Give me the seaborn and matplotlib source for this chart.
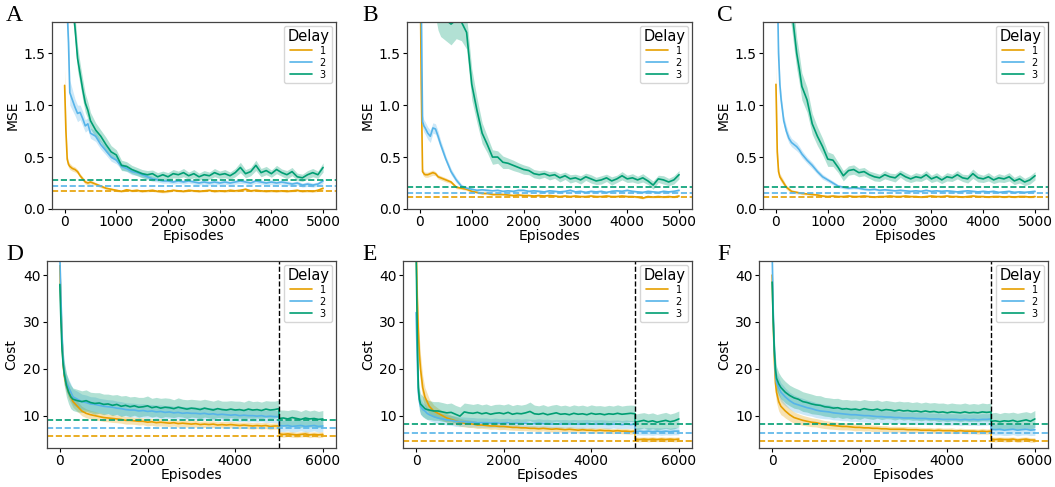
import numpy as np
import pandas as pd
import matplotlib
matplotlib.use("Agg")
import matplotlib.pyplot as plt
import seaborn as sns

# ---------------- data ----------------
TOP_X = [0, 25, 50, 75, 100, 150, 200, 250, 300, 350, 400, 450, 500] + list(range(600, 5001, 100))
BOT_X = [0, 25, 50, 75, 100, 150, 200, 250, 300, 400, 500] + list(range(600, 5001, 100)) + [5001] + list(range(5100, 6001, 100))
DELAYS = ["1", "2", "3"]
COLORS = ["#E69F00", "#56B4E9", "#009E73"]
PANEL_LABELS = ["A", "B", "C", "D", "E", "F"]

# ---- Panel A (MSE) ----
A_1 = [1.19, 0.75, 0.48, 0.43, 0.41, 0.39, 0.38, 0.36, 0.32, 0.29, 0.26, 0.25, 0.26,
       0.24, 0.22, 0.20, 0.19, 0.18, 0.17, 0.185, 0.175, 0.18, 0.17,
       0.175, 0.18, 0.17, 0.165, 0.17, 0.18, 0.175, 0.17, 0.18, 0.175,
       0.17, 0.175, 0.18, 0.17, 0.175, 0.17, 0.18, 0.175, 0.18, 0.19,
       0.175, 0.18, 0.175, 0.17, 0.175, 0.17, 0.175, 0.17, 0.175, 0.18,
       0.17, 0.175, 0.17, 0.18, 0.20]
A_1_SD = [0.16, 0.08, 0.04, 0.03, 0.03, 0.025, 0.025, 0.02, 0.02, 0.02, 0.02, 0.018, 0.018,
          0.015, 0.015, 0.012, 0.012, 0.012, 0.01, 0.012, 0.01, 0.012, 0.01,
          0.01, 0.012, 0.01, 0.01, 0.012, 0.01, 0.01, 0.012, 0.01, 0.01,
          0.012, 0.01, 0.01, 0.012, 0.01, 0.01, 0.012, 0.01, 0.012, 0.014,
          0.01, 0.012, 0.01, 0.01, 0.012, 0.01, 0.01, 0.012, 0.01, 0.012,
          0.01, 0.012, 0.01, 0.012, 0.015]
A_2 = [2.6, 2.2, 1.9, 1.6, 1.12, 1.05, 0.98, 0.92, 0.93, 0.87, 0.80, 0.82, 0.73,
       0.70, 0.62, 0.56, 0.50, 0.47, 0.41, 0.39, 0.36, 0.35, 0.33,
       0.31, 0.29, 0.28, 0.27, 0.27, 0.26, 0.27, 0.26, 0.27, 0.26,
       0.25, 0.26, 0.25, 0.26, 0.25, 0.26, 0.25, 0.26, 0.27, 0.26,
       0.25, 0.27, 0.26, 0.25, 0.26, 0.25, 0.26, 0.25, 0.24, 0.25,
       0.23, 0.24, 0.23, 0.24, 0.27]
A_2_SD = [0.2, 0.2, 0.2, 0.15, 0.12, 0.1, 0.08, 0.08, 0.07, 0.07, 0.06, 0.06, 0.05,
          0.05, 0.045, 0.04, 0.04, 0.035, 0.03, 0.03, 0.03, 0.025, 0.025,
          0.025, 0.025, 0.02, 0.022, 0.02, 0.02, 0.022, 0.02, 0.02, 0.022,
          0.02, 0.02, 0.022, 0.02, 0.02, 0.022, 0.02, 0.02, 0.024, 0.02,
          0.02, 0.022, 0.02, 0.02, 0.022, 0.02, 0.02, 0.022, 0.02, 0.02,
          0.02, 0.022, 0.02, 0.02, 0.025]
A_3 = [3.2, 3.0, 2.8, 2.5, 2.3, 2.0, 1.75, 1.45, 1.30, 1.15, 1.02, 0.95, 0.85,
       0.76, 0.70, 0.62, 0.55, 0.52, 0.42, 0.41, 0.38, 0.36, 0.34,
       0.33, 0.34, 0.31, 0.33, 0.31, 0.34, 0.33, 0.35, 0.32, 0.34,
       0.31, 0.33, 0.32, 0.35, 0.33, 0.34, 0.32, 0.35, 0.40, 0.34,
       0.36, 0.42, 0.35, 0.37, 0.34, 0.38, 0.35, 0.33, 0.36, 0.31,
       0.30, 0.33, 0.35, 0.33, 0.40]
A_3_SD = [0.2, 0.2, 0.2, 0.2, 0.2, 0.15, 0.12, 0.12, 0.1, 0.1, 0.09, 0.08, 0.08,
          0.07, 0.06, 0.07, 0.06, 0.05, 0.05, 0.045, 0.04, 0.04, 0.04,
          0.04, 0.035, 0.04, 0.035, 0.04, 0.04, 0.035, 0.04, 0.035, 0.04,
          0.035, 0.04, 0.035, 0.04, 0.035, 0.04, 0.035, 0.04, 0.05, 0.04,
          0.04, 0.05, 0.04, 0.04, 0.035, 0.04, 0.035, 0.04, 0.04, 0.035,
          0.035, 0.04, 0.04, 0.035, 0.045]
A_REF = [0.17, 0.22, 0.28]

# ---- Panel B (MSE) ----
B_1 = [2.5, 1.2, 0.36, 0.34, 0.33, 0.33, 0.34, 0.35, 0.34, 0.31, 0.30, 0.29, 0.28,
       0.26, 0.21, 0.20, 0.19, 0.17, 0.16, 0.15, 0.15, 0.14, 0.14,
       0.14, 0.135, 0.13, 0.135, 0.13, 0.13, 0.125, 0.13, 0.125, 0.13,
       0.125, 0.12, 0.125, 0.12, 0.125, 0.12, 0.12, 0.125, 0.12, 0.12,
       0.125, 0.12, 0.12, 0.125, 0.12, 0.12, 0.115, 0.105, 0.12, 0.115,
       0.12, 0.115, 0.12, 0.115, 0.125]
B_1_SD = [0.1, 0.1, 0.03, 0.025, 0.025, 0.025, 0.025, 0.025, 0.02, 0.02, 0.02, 0.02, 0.02,
          0.015, 0.015, 0.012, 0.012, 0.01, 0.01, 0.01, 0.01, 0.01, 0.01,
          0.01, 0.008, 0.01, 0.008, 0.01, 0.008, 0.01, 0.008, 0.01, 0.008,
          0.01, 0.008, 0.01, 0.008, 0.01, 0.008, 0.01, 0.008, 0.01, 0.008,
          0.01, 0.008, 0.01, 0.008, 0.01, 0.008, 0.01, 0.008, 0.01, 0.008,
          0.01, 0.008, 0.01, 0.008, 0.01]
B_2 = [3.0, 2.0, 0.84, 0.80, 0.78, 0.73, 0.70, 0.78, 0.77, 0.70, 0.62, 0.55, 0.48,
       0.36, 0.28, 0.22, 0.20, 0.19, 0.18, 0.185, 0.18, 0.175, 0.18,
       0.17, 0.175, 0.17, 0.18, 0.18, 0.17, 0.175, 0.17, 0.165, 0.175,
       0.17, 0.165, 0.17, 0.18, 0.165, 0.17, 0.16, 0.17, 0.165, 0.17,
       0.16, 0.17, 0.175, 0.17, 0.18, 0.17, 0.165, 0.16, 0.17, 0.165,
       0.16, 0.17, 0.165, 0.17, 0.18]
B_2_SD = [0.1, 0.1, 0.06, 0.06, 0.06, 0.06, 0.06, 0.05, 0.05, 0.05, 0.04, 0.04, 0.03,
          0.03, 0.025, 0.02, 0.015, 0.015, 0.012, 0.012, 0.012, 0.01, 0.012,
          0.01, 0.012, 0.01, 0.012, 0.01, 0.012, 0.01, 0.012, 0.01, 0.012,
          0.01, 0.012, 0.01, 0.012, 0.01, 0.012, 0.01, 0.012, 0.01, 0.012,
          0.01, 0.012, 0.01, 0.012, 0.01, 0.012, 0.01, 0.012, 0.01, 0.012,
          0.01, 0.012, 0.01, 0.012, 0.012]
B_3 = [3.5, 3.3, 3.0, 2.8, 2.6, 2.5, 2.35, 2.2, 2.05, 1.92, 1.86, 1.84, 1.82,
       1.78, 1.82, 1.80, 1.70, 1.20, 0.95, 0.73, 0.62, 0.50, 0.50,
       0.45, 0.44, 0.42, 0.40, 0.38, 0.37, 0.34, 0.33, 0.34, 0.32,
       0.33, 0.30, 0.32, 0.29, 0.30, 0.28, 0.31, 0.29, 0.27, 0.28,
       0.30, 0.27, 0.29, 0.32, 0.29, 0.30, 0.28, 0.30, 0.27, 0.23,
       0.29, 0.28, 0.26, 0.28, 0.33]
B_3_SD = [0.2, 0.2, 0.2, 0.2, 0.2, 0.2, 0.2, 0.2, 0.2, 0.2, 0.2, 0.2, 0.2,
          0.2, 0.18, 0.18, 0.16, 0.15, 0.12, 0.1, 0.08, 0.07, 0.06,
          0.06, 0.05, 0.05, 0.045, 0.045, 0.04, 0.04, 0.04, 0.035, 0.04,
          0.035, 0.04, 0.035, 0.04, 0.035, 0.04, 0.035, 0.04, 0.035, 0.04,
          0.035, 0.04, 0.035, 0.04, 0.035, 0.04, 0.035, 0.04, 0.035, 0.04,
          0.035, 0.04, 0.035, 0.04, 0.04]
B_REF = [0.12, 0.155, 0.21]

# ---- Panel C (MSE) ----
C_1 = [1.20, 0.55, 0.36, 0.31, 0.29, 0.25, 0.21, 0.19, 0.17, 0.165, 0.16, 0.155, 0.15,
       0.145, 0.14, 0.135, 0.125, 0.12, 0.125, 0.12, 0.12, 0.125, 0.12,
       0.12, 0.125, 0.12, 0.115, 0.12, 0.12, 0.125, 0.12, 0.12, 0.125,
       0.12, 0.12, 0.115, 0.12, 0.125, 0.12, 0.12, 0.125, 0.12, 0.12,
       0.115, 0.12, 0.125, 0.12, 0.12, 0.115, 0.12, 0.12, 0.115, 0.12,
       0.115, 0.12, 0.12, 0.115, 0.12]
C_1_SD = [0.2, 0.08, 0.04, 0.03, 0.03, 0.025, 0.02, 0.02, 0.015, 0.015, 0.015, 0.012, 0.012,
          0.01, 0.01, 0.01, 0.008, 0.008, 0.008, 0.008, 0.008, 0.008, 0.008,
          0.008, 0.008, 0.008, 0.008, 0.008, 0.008, 0.008, 0.008, 0.008, 0.008,
          0.008, 0.008, 0.008, 0.008, 0.008, 0.008, 0.008, 0.008, 0.008, 0.008,
          0.008, 0.008, 0.008, 0.008, 0.008, 0.008, 0.008, 0.008, 0.008, 0.008,
          0.008, 0.008, 0.008, 0.008, 0.01]
C_2 = [3.0, 2.2, 1.5, 1.2, 1.05, 0.85, 0.75, 0.68, 0.64, 0.62, 0.60, 0.57, 0.53,
       0.47, 0.42, 0.36, 0.31, 0.28, 0.25, 0.22, 0.21, 0.20, 0.205,
       0.20, 0.19, 0.185, 0.19, 0.18, 0.185, 0.18, 0.175, 0.18, 0.175,
       0.17, 0.175, 0.17, 0.18, 0.17, 0.175, 0.17, 0.175, 0.17, 0.165,
       0.17, 0.175, 0.17, 0.165, 0.17, 0.165, 0.17, 0.16, 0.165, 0.17,
       0.16, 0.165, 0.16, 0.165, 0.17]
C_2_SD = [0.15, 0.1, 0.08, 0.06, 0.06, 0.05, 0.05, 0.045, 0.04, 0.04, 0.04, 0.035, 0.035,
          0.03, 0.03, 0.025, 0.025, 0.02, 0.02, 0.015, 0.015, 0.012, 0.012,
          0.012, 0.01, 0.012, 0.01, 0.012, 0.01, 0.012, 0.01, 0.012, 0.01,
          0.012, 0.01, 0.012, 0.01, 0.012, 0.01, 0.012, 0.01, 0.012, 0.01,
          0.012, 0.01, 0.012, 0.01, 0.012, 0.01, 0.012, 0.01, 0.012, 0.01,
          0.012, 0.01, 0.012, 0.01, 0.012]
C_3 = [3.5, 3.3, 3.1, 2.9, 2.7, 2.5, 2.3, 2.1, 1.95, 1.72, 1.50, 1.35, 1.18,
       1.05, 0.82, 0.70, 0.60, 0.48, 0.47, 0.40, 0.32, 0.37, 0.38,
       0.35, 0.36, 0.33, 0.31, 0.30, 0.33, 0.31, 0.30, 0.34, 0.31,
       0.29, 0.31, 0.30, 0.33, 0.29, 0.31, 0.28, 0.31, 0.30, 0.33,
       0.30, 0.29, 0.34, 0.30, 0.29, 0.31, 0.28, 0.30, 0.29, 0.31,
       0.27, 0.29, 0.26, 0.28, 0.32]
C_3_SD = [0.2, 0.2, 0.2, 0.2, 0.2, 0.2, 0.2, 0.2, 0.2, 0.18, 0.15, 0.14, 0.13,
          0.12, 0.1, 0.09, 0.08, 0.07, 0.06, 0.05, 0.05, 0.045, 0.045,
          0.04, 0.04, 0.035, 0.04, 0.035, 0.04, 0.035, 0.04, 0.035, 0.04,
          0.035, 0.04, 0.035, 0.04, 0.035, 0.04, 0.035, 0.04, 0.035, 0.04,
          0.035, 0.04, 0.045, 0.04, 0.035, 0.04, 0.035, 0.04, 0.035, 0.04,
          0.035, 0.04, 0.035, 0.04, 0.04]
C_REF = [0.12, 0.155, 0.21]

# ---- Panel D (Cost) ----
D_1 = [42, 33, 26, 21, 18.5, 16.5, 15, 14, 13, 12, 11,
       10.5, 10.2, 10.0, 9.8, 9.6, 9.5, 9.4, 9.3, 9.2, 9.0,
       9.0, 8.9, 8.8, 8.8, 8.6, 8.7, 8.5, 8.6, 8.5, 8.4,
       8.5, 8.3, 8.4, 8.3, 8.2, 8.3, 8.1, 8.2, 8.1, 8.2,
       8.0, 8.1, 8.0, 8.1, 8.0, 7.9, 8.0, 7.9, 7.8, 7.9,
       7.8, 7.9, 7.7, 7.8, 7.8,
       6.1, 6.0, 6.1, 6.0, 5.9, 6.0, 6.1, 5.9, 6.0, 5.9, 6.0]
D_1_SD = [3.0, 3.0, 2.5, 2.0, 1.8, 1.5, 1.4, 1.3, 1.2, 1.1, 1.0,
          0.95, 0.9, 0.9, 0.85, 0.85, 0.8, 0.85, 0.8, 0.8, 0.8,
          0.8, 0.75, 0.8, 0.75, 0.8, 0.75, 0.75, 0.8, 0.75, 0.75,
          0.7, 0.75, 0.7, 0.75, 0.7, 0.75, 0.7, 0.7, 0.75, 0.7,
          0.7, 0.7, 0.75, 0.7, 0.7, 0.7, 0.65, 0.7, 0.7, 0.65,
          0.7, 0.65, 0.7, 0.65, 0.7,
          0.6, 0.6, 0.55, 0.6, 0.6, 0.55, 0.6, 0.6, 0.55, 0.6, 0.6]
D_2 = [44, 35, 27, 22, 19, 17, 16, 15, 14, 13.5, 13,
       12.8, 12.5, 12.4, 12.2, 12.0, 11.9, 11.8, 11.6, 11.5, 11.3,
       11.2, 11.2, 11.0, 11.1, 10.9, 11.0, 10.8, 10.9, 10.7, 10.8,
       10.6, 10.7, 10.5, 10.6, 10.5, 10.5, 10.4, 10.5, 10.3, 10.4,
       10.2, 10.3, 10.2, 10.1, 10.2, 10.0, 10.1, 10.0, 10.0, 9.9,
       10.0, 9.8, 9.9, 9.8, 9.8,
       7.9, 7.8, 7.9, 7.7, 7.8, 7.9, 7.7, 7.8, 7.9, 7.7, 7.8]
D_2_SD = [3.0, 3.0, 2.5, 2.2, 2.0, 1.9, 1.8, 1.8, 1.7, 1.7, 1.6,
          1.6, 1.55, 1.6, 1.5, 1.55, 1.5, 1.55, 1.5, 1.5, 1.45,
          1.5, 1.45, 1.5, 1.45, 1.5, 1.4, 1.45, 1.4, 1.45, 1.4,
          1.4, 1.45, 1.4, 1.35, 1.4, 1.35, 1.4, 1.35, 1.4, 1.35,
          1.35, 1.3, 1.35, 1.3, 1.35, 1.3, 1.3, 1.35, 1.3, 1.3,
          1.3, 1.3, 1.35, 1.3, 1.3,
          1.2, 1.2, 1.15, 1.2, 1.2, 1.15, 1.2, 1.2, 1.15, 1.2, 1.2]
D_3 = [38, 30, 24, 21, 19, 16.5, 15, 14, 13.5, 13.2, 13,
       13.2, 12.8, 12.6, 12.7, 12.4, 12.5, 12.2, 12.4, 12.0, 12.2,
       11.9, 12.1, 11.8, 11.9, 12.1, 11.7, 11.9, 11.6, 11.8, 11.7,
       11.5, 11.8, 11.6, 11.4, 11.6, 11.5, 11.3, 11.6, 11.4, 11.2,
       11.5, 11.3, 11.2, 11.4, 11.2, 11.3, 11.1, 11.4, 11.2, 11.3,
       11.1, 11.4, 11.2, 11.3, 11.5,
       9.4, 9.5, 9.3, 9.6, 9.4, 9.2, 9.5, 9.3, 9.4, 9.2, 9.3]
D_3_SD = [3.0, 3.0, 3.0, 2.8, 2.6, 2.5, 2.5, 2.5, 2.4, 2.4, 2.3,
          2.3, 2.2, 2.3, 2.2, 2.2, 2.1, 2.2, 2.1, 2.2, 2.1,
          2.1, 2.0, 2.1, 2.0, 2.1, 2.0, 2.0, 2.1, 2.0, 2.0,
          1.9, 2.0, 1.9, 2.0, 1.9, 1.9, 2.0, 1.9, 1.9, 1.9,
          1.9, 1.8, 1.9, 1.8, 1.9, 1.8, 1.8, 1.9, 1.8, 1.8,
          1.8, 1.8, 1.9, 1.8, 1.8,
          1.8, 1.7, 1.8, 1.7, 1.8, 1.7, 1.8, 1.7, 1.8, 1.7, 1.8]
D_REF = [5.7, 7.4, 9.0]

# ---- Panel E (Cost) ----
E_1 = [46, 35, 28, 23, 20, 16, 14, 13, 12, 11, 10.5,
       10.0, 9.5, 9.2, 8.9, 8.6, 8.4, 8.3, 8.2, 8.0, 8.0,
       7.9, 7.8, 7.8, 7.7, 7.7, 7.6, 7.5, 7.5, 7.4, 7.4,
       7.3, 7.3, 7.2, 7.3, 7.2, 7.1, 7.2, 7.1, 7.0, 7.1,
       7.0, 6.9, 7.0, 6.9, 6.9, 6.8, 6.9, 6.8, 6.8, 6.7,
       6.8, 6.7, 6.7, 6.6, 6.7,
       5.0, 4.9, 5.0, 4.9, 5.0, 4.9, 5.0, 4.9, 5.0, 4.9, 5.0]
E_1_SD = [4.0, 4.0, 4.0, 3.5, 3.0, 2.5, 2.0, 1.8, 1.6, 1.3, 1.1,
          1.0, 0.95, 0.9, 0.9, 0.85, 0.8, 0.8, 0.75, 0.75, 0.7,
          0.7, 0.7, 0.65, 0.7, 0.65, 0.65, 0.6, 0.65, 0.6, 0.6,
          0.6, 0.6, 0.6, 0.55, 0.6, 0.6, 0.55, 0.6, 0.55, 0.6,
          0.55, 0.6, 0.55, 0.55, 0.6, 0.55, 0.55, 0.6, 0.55, 0.55,
          0.55, 0.55, 0.6, 0.55, 0.55,
          0.5, 0.5, 0.45, 0.5, 0.5, 0.45, 0.5, 0.5, 0.45, 0.5, 0.5]
E_2 = [32, 22, 15, 13, 12, 11.3, 11, 10.5, 10.2, 9.8, 9.5,
       9.3, 9.1, 9.0, 8.8, 8.7, 8.7, 8.6, 8.6, 8.5, 8.5,
       8.5, 8.4, 8.5, 8.4, 8.4, 8.5, 8.3, 8.4, 8.3, 8.4,
       8.3, 8.3, 8.4, 8.3, 8.3, 8.2, 8.3, 8.2, 8.3, 8.2,
       8.3, 8.2, 8.2, 8.3, 8.2, 8.2, 8.3, 8.2, 8.1, 8.2,
       8.2, 8.1, 8.2, 8.1, 8.2,
       6.6, 6.7, 6.6, 6.7, 6.6, 6.7, 6.6, 6.7, 6.6, 6.7, 6.7]
E_2_SD = [2.0, 2.0, 2.0, 1.8, 1.6, 1.5, 1.4, 1.3, 1.3, 1.2, 1.2,
          1.1, 1.1, 1.05, 1.1, 1.05, 1.0, 1.05, 1.0, 1.0, 1.0,
          1.0, 0.95, 1.0, 0.95, 1.0, 0.95, 0.95, 1.0, 0.95, 0.95,
          0.95, 0.9, 0.95, 0.9, 0.95, 0.9, 0.9, 0.95, 0.9, 0.9,
          0.9, 0.9, 0.95, 0.9, 0.9, 0.9, 0.85, 0.9, 0.9, 0.85,
          0.9, 0.85, 0.9, 0.85, 0.9,
          0.8, 0.8, 0.75, 0.8, 0.8, 0.75, 0.8, 0.8, 0.75, 0.8, 0.8]
E_3 = [45, 28, 16, 13.5, 12.5, 12, 11.5, 11.3, 11.2, 11.0, 11.0,
       10.8, 10.6, 10.7, 10.3, 9.9, 10.8, 10.6, 10.5, 10.7, 10.4,
       10.6, 10.3, 10.5, 10.6, 10.4, 10.7, 10.3, 10.5, 10.4, 10.6,
       10.9, 10.4, 10.3, 10.5, 10.2, 10.4, 10.6, 10.3, 10.4, 10.2,
       10.5, 10.3, 10.4, 10.2, 10.5, 10.3, 10.4, 10.2, 10.4, 10.3,
       10.5, 10.3, 10.4, 10.5, 10.4,
       8.6, 8.8, 9.0, 8.7, 8.9, 8.6, 8.8, 9.0, 8.7, 8.9, 9.3]
E_3_SD = [3.0, 3.0, 2.5, 2.3, 2.2, 2.2, 2.1, 2.1, 2.0, 2.0, 2.0,
          2.0, 1.95, 2.0, 1.9, 1.95, 1.9, 1.95, 1.9, 1.9, 1.9,
          1.9, 1.85, 1.9, 1.85, 1.9, 1.85, 1.85, 1.9, 1.85, 1.85,
          2.0, 1.85, 1.8, 1.85, 1.8, 1.85, 1.8, 1.8, 1.85, 1.8,
          1.8, 1.8, 1.85, 1.8, 1.8, 1.8, 1.75, 1.8, 1.8, 1.75,
          1.8, 1.75, 1.8, 1.75, 1.8,
          1.7, 1.7, 1.65, 1.7, 1.7, 1.65, 1.7, 1.7, 1.65, 1.7, 1.7]
E_REF = [4.6, 6.4, 8.3]

# ---- Panel F (Cost) ----
F_1 = [40, 30, 22, 17, 15, 13, 12, 11.5, 11, 10.2, 9.6,
       9.3, 9.0, 8.8, 8.6, 8.5, 8.3, 8.1, 8.0, 7.9, 7.8,
       7.7, 7.7, 7.6, 7.5, 7.5, 7.4, 7.4, 7.3, 7.3, 7.2,
       7.2, 7.1, 7.1, 7.1, 7.1, 7.0, 7.0, 7.0, 6.9, 6.9,
       6.9, 6.8, 6.9, 6.8, 6.8, 6.8, 6.7, 6.8, 6.7, 6.7,
       6.7, 6.6, 6.7, 6.6, 6.7,
       5.0, 4.9, 5.0, 4.9, 4.9, 5.0, 4.8, 4.9, 5.0, 4.8, 4.8]
F_1_SD = [3.0, 3.0, 2.8, 2.5, 2.2, 2.0, 1.8, 1.6, 1.5, 1.3, 1.2,
          1.1, 1.05, 1.0, 0.95, 0.9, 0.9, 0.85, 0.85, 0.8, 0.8,
          0.75, 0.75, 0.7, 0.75, 0.7, 0.7, 0.65, 0.7, 0.65, 0.65,
          0.65, 0.6, 0.65, 0.6, 0.6, 0.65, 0.6, 0.6, 0.6, 0.55,
          0.6, 0.55, 0.6, 0.55, 0.55, 0.6, 0.55, 0.55, 0.55, 0.55,
          0.55, 0.55, 0.6, 0.55, 0.55,
          0.5, 0.5, 0.45, 0.5, 0.5, 0.45, 0.5, 0.5, 0.45, 0.5, 0.5]
F_2 = [45, 32, 24, 19, 17, 16, 15, 14.5, 14, 13.2, 12.6,
       12.3, 12.0, 11.7, 11.5, 11.2, 11.0, 10.9, 10.8, 10.6, 10.5,
       10.4, 10.3, 10.2, 10.2, 10.1, 10.0, 10.0, 9.9, 9.8, 9.8,
       9.7, 9.7, 9.6, 9.6, 9.5, 9.5, 9.5, 9.4, 9.4, 9.4,
       9.3, 9.3, 9.3, 9.2, 9.2, 9.2, 9.2, 9.1, 9.2, 9.1,
       9.2, 9.1, 9.2, 9.2, 9.3,
       7.1, 7.0, 7.1, 6.9, 7.0, 7.1, 6.9, 7.0, 7.1, 6.9, 7.0]
F_2_SD = [3.0, 3.0, 2.6, 2.4, 2.2, 2.1, 2.0, 2.0, 1.9, 1.8, 1.8,
          1.7, 1.7, 1.65, 1.6, 1.6, 1.55, 1.55, 1.5, 1.5, 1.45,
          1.45, 1.4, 1.45, 1.4, 1.4, 1.35, 1.4, 1.35, 1.35, 1.3,
          1.35, 1.3, 1.3, 1.3, 1.25, 1.3, 1.25, 1.3, 1.25, 1.25,
          1.25, 1.2, 1.25, 1.2, 1.25, 1.2, 1.2, 1.25, 1.2, 1.2,
          1.2, 1.2, 1.25, 1.2, 1.2,
          1.2, 1.15, 1.2, 1.15, 1.2, 1.15, 1.2, 1.15, 1.2, 1.15, 1.2]
F_3 = [38.5, 30, 24, 20, 18, 16.8, 16, 15.5, 15, 14.3, 13.8,
       13.5, 13.0, 12.8, 12.5, 12.3, 12.2, 11.9, 11.8, 11.6, 11.7,
       11.4, 11.5, 11.3, 11.4, 11.2, 11.5, 11.3, 11.2, 11.4, 11.1,
       11.3, 11.2, 11.0, 11.2, 11.0, 11.1, 10.9, 11.0, 10.8, 11.0,
       10.8, 10.9, 10.7, 10.8, 10.6, 10.8, 10.7, 10.6, 10.8, 10.6,
       10.7, 10.6, 10.8, 10.7, 10.8,
       8.8, 8.9, 8.7, 8.9, 8.8, 9.0, 8.7, 8.9, 9.1, 8.8, 9.3]
F_3_SD = [3.0, 3.0, 2.8, 2.6, 2.5, 2.4, 2.4, 2.3, 2.3, 2.2, 2.2,
          2.1, 2.1, 2.05, 2.1, 2.0, 2.05, 2.0, 2.0, 2.05, 2.0,
          2.0, 1.95, 2.0, 1.95, 2.0, 1.95, 1.95, 2.0, 1.95, 1.95,
          1.95, 1.9, 1.95, 1.9, 1.95, 1.9, 1.9, 1.95, 1.9, 1.9,
          1.9, 1.9, 1.95, 1.9, 1.9, 1.9, 1.85, 1.9, 1.9, 1.85,
          1.9, 1.85, 1.9, 1.85, 1.9,
          1.8, 1.8, 1.75, 1.8, 1.8, 1.75, 1.8, 1.8, 1.75, 1.8, 1.8]
F_REF = [4.6, 6.4, 8.3]

PANELS = [
    ("A", TOP_X, [A_1, A_2, A_3], [A_1_SD, A_2_SD, A_3_SD], A_REF, "MSE"),
    ("B", TOP_X, [B_1, B_2, B_3], [B_1_SD, B_2_SD, B_3_SD], B_REF, "MSE"),
    ("C", TOP_X, [C_1, C_2, C_3], [C_1_SD, C_2_SD, C_3_SD], C_REF, "MSE"),
    ("D", BOT_X, [D_1, D_2, D_3], [D_1_SD, D_2_SD, D_3_SD], D_REF, "Cost"),
    ("E", BOT_X, [E_1, E_2, E_3], [E_1_SD, E_2_SD, E_3_SD], E_REF, "Cost"),
    ("F", BOT_X, [F_1, F_2, F_3], [F_1_SD, F_2_SD, F_3_SD], F_REF, "Cost"),
]

# axes boxes in pixels: left, top, right, bottom ; panel-letter x position
BOXES = [(51.7, 22, 336, 209), (407, 22, 692, 209), (763, 22, 1048, 209),
         (46.7, 261, 336, 448), (403, 261, 692, 448), (759, 261, 1048, 448)]
LETTER_X = [6, 362, 717, 6, 362, 717]

# ---------------- plot ----------------
sns.set_style("ticks")
plt.rcParams["font.family"] = ["DejaVu Sans"]
plt.rcParams["text.color"] = "black"
plt.rcParams["axes.labelcolor"] = "black"
plt.rcParams["xtick.color"] = "black"
plt.rcParams["ytick.color"] = "black"
W, H = 1055, 487
fig = plt.figure(figsize=(W / 100, H / 100), dpi=100)

for (lab, xs, means, sds, refs, ylab), (l, t, r, b), lx in zip(PANELS, BOXES, LETTER_X):
    ax = fig.add_axes([l / W, 1 - b / H, (r - l) / W, (b - t) / H])
    for name, m, s in zip(DELAYS, means, sds):
        if len(m) != len(xs) or len(s) != len(xs):
            raise ValueError(f"{lab}{name}: {len(m)} {len(s)} vs {len(xs)}")
    frames = [pd.DataFrame({"Episodes": xs, "val": m, "Delay": d}) for d, m in zip(DELAYS, means)]
    df = pd.concat(frames, ignore_index=True)
    for d, m, s, c in zip(DELAYS, means, sds, COLORS):
        m = np.asarray(m, float)
        s = np.asarray(s, float)
        ax.fill_between(xs, m - s, m + s, color=c, alpha=0.3, linewidth=0)
    sns.lineplot(data=df, x="Episodes", y="val", hue="Delay", hue_order=DELAYS,
                 palette=COLORS, linewidth=1.2, errorbar=None, ax=ax)
    for v, c in zip(refs, COLORS):
        ax.axhline(v, color=c, ls="--", lw=1.2)
    if ylab == "MSE":
        ax.set_ylim(0, 1.8)
        ax.set_xlim(-250, 5250)
    else:
        ax.set_ylim(3.1, 43)
        ax.set_xlim(-300, 6300)
        ax.axvline(5000, color="black", ls="--", lw=1.0)
    ax.set_ylabel(ylab, fontsize=10, labelpad=3)
    ax.set_xlabel("Episodes", fontsize=10, labelpad=0)
    ax.tick_params(labelsize=10, length=3, width=0.8, pad=1.5)
    for sp in ax.spines.values():
        sp.set_color("#444444")
        sp.set_linewidth(0.9)
    sns.move_legend(ax, "upper right", title="Delay", fontsize=7, title_fontsize=10.5,
                    frameon=True, borderaxespad=0.4, handlelength=2.2,
                    borderpad=0.3, labelspacing=0.2)
    fig.text(lx / W, 1 - (t - 1) / H, lab, fontsize=17, family="Liberation Serif",
             va="baseline", ha="left")

fig.savefig("out.png", dpi=100)
